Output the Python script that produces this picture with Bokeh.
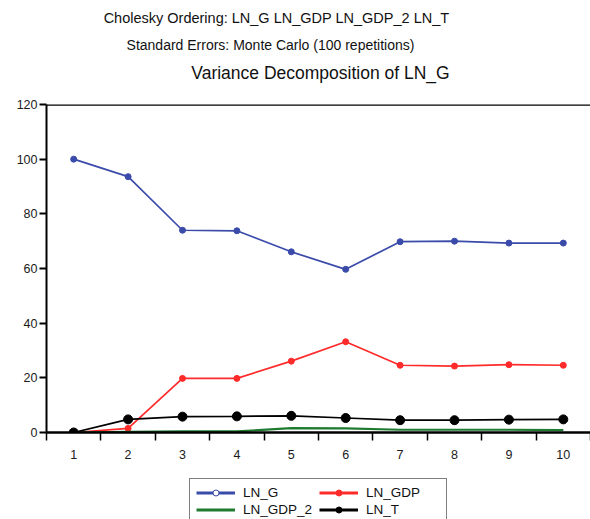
from bokeh.plotting import figure
from bokeh.models import Range1d, FixedTicker, Span, Label, Legend, LegendItem
from bokeh.layouts import column
from bokeh.embed import file_html
from bokeh.resources import INLINE

periods = [1, 2, 3, 4, 5, 6, 7, 8, 9, 10]
ln_g = [100.0, 93.6, 74.0, 73.8, 66.1, 59.7, 69.8, 70.0, 69.3, 69.3]
ln_gdp = [0.0, 1.5, 19.8, 19.8, 26.1, 33.2, 24.6, 24.3, 24.8, 24.6]
ln_gdp_2 = [0.0, 0.2, 0.4, 0.4, 1.6, 1.5, 1.0, 1.0, 1.0, 0.9]
ln_t = [0.0, 4.8, 5.8, 5.9, 6.1, 5.3, 4.5, 4.5, 4.7, 4.8]
y_ticks = [0, 20, 40, 60, 80, 100, 120]
series_names = ["LN_G", "LN_GDP", "LN_GDP_2", "LN_T"]
title_lines = ["Cholesky Ordering: LN_G LN_GDP LN_GDP_2 LN_T",
               "Standard Errors: Monte Carlo (100 repetitions)",
               "Variance Decomposition of LN_G"]

FONT = "Liberation Sans"
blue = "#3B4BAA"
red = "#FF2A2A"
green = "#1E7B30"

HEAD_H = 90
MAIN_H = 474 - HEAD_H
LEG_H = 519 - 474
FRAME_LEFT = 46  # column() aligns every frame on the chart's frame

# ---- header with the three title lines
h = figure(width=590, height=HEAD_H, output_backend="svg", toolbar_location=None,
           title=None, x_range=Range1d(0, 1), y_range=Range1d(0, 1), min_border=0)
h.axis.visible = False
h.grid.visible = False
h.outline_line_color = None
h.background_fill_color = "white"
h.border_fill_color = "white"
h.add_layout(Label(x=276 - FRAME_LEFT, y=HEAD_H - 17, x_units="screen", y_units="screen",
                   text=title_lines[0], text_font=FONT, text_font_size="14.5px",
                   text_align="center", text_baseline="middle", text_color="#111111"))
h.add_layout(Label(x=270 - FRAME_LEFT, y=HEAD_H - 44, x_units="screen", y_units="screen",
                   text=title_lines[1], text_font=FONT, text_font_size="14px",
                   text_align="center", text_baseline="middle", text_color="#111111"))
h.add_layout(Label(x=320 - FRAME_LEFT, y=HEAD_H - 72, x_units="screen", y_units="screen",
                   text=title_lines[2], text_font=FONT, text_font_size="17.5px",
                   text_align="center", text_baseline="middle", text_color="#111111"))

# ---- main chart
p = figure(width=590, height=MAIN_H, output_backend="svg", toolbar_location=None,
           title=None,
           x_range=Range1d(0.5, 10.5), y_range=Range1d(0, 120),
           min_border_left=FRAME_LEFT, min_border_right=0, min_border_top=104 - HEAD_H,
           min_border_bottom=474 - 432)
p.outline_line_color = None
p.xgrid.visible = False
p.ygrid.visible = False
p.background_fill_color = "white"
p.border_fill_color = "white"

p.yaxis.ticker = FixedTicker(ticks=y_ticks)
p.yaxis.axis_line_width = 2
p.yaxis.axis_line_color = "black"
p.yaxis.major_tick_out = 7
p.yaxis.major_tick_in = 0
p.yaxis.major_tick_line_width = 2
p.yaxis.minor_tick_line_color = None
p.yaxis.major_label_text_font = FONT
p.yaxis.major_label_text_font_size = "12.5px"
p.yaxis.major_label_text_color = "#1a1a1a"
p.yaxis.major_label_standoff = 2

p.xaxis.ticker = FixedTicker(ticks=periods, minor_ticks=[x + 0.5 for x in range(0, 11)])
p.xaxis.axis_line_width = 2.5
p.xaxis.axis_line_color = "black"
p.xaxis.major_tick_out = 0
p.xaxis.major_tick_in = 0
p.xaxis.minor_tick_out = 8
p.xaxis.minor_tick_in = 0
p.xaxis.minor_tick_line_color = "black"
p.xaxis.minor_tick_line_width = 1.5
p.xaxis.major_label_text_font = FONT
p.xaxis.major_label_text_font_size = "12.5px"
p.xaxis.major_label_text_color = "#1a1a1a"
p.xaxis.major_label_standoff = 9

p.add_layout(Span(location=120, dimension="width", line_color="black", line_width=2.5))

p.line(periods, ln_g, line_color=blue, line_width=1.7)
p.scatter(periods, ln_g, size=6, color=blue)
p.line(periods, ln_gdp, line_color=red, line_width=1.7)
p.scatter(periods, ln_gdp, size=6, color=red)
p.line(periods, ln_gdp_2, line_color=green, line_width=2.2)
p.line(periods, ln_t, line_color="black", line_width=1.7)
p.scatter(periods, ln_t, size=9, color="black")

# ---- legend strip (series drawn off-range so only the legend shows)
q = figure(width=590, height=LEG_H, output_backend="svg", toolbar_location=None,
           title=None, x_range=Range1d(0.5, 10.5), y_range=Range1d(1000, 1001),
           min_border=0, min_border_left=FRAME_LEFT)
q.axis.visible = False
q.grid.visible = False
q.outline_line_color = None
q.background_fill_color = "white"
q.border_fill_color = "white"

l_g = q.line(periods, ln_g, line_color=blue, line_width=2.8)
m_g = q.scatter(periods, ln_g, size=4, fill_color="white", line_color=blue)
l_gdp = q.line(periods, ln_gdp, line_color=red, line_width=2.8)
m_gdp = q.scatter(periods, ln_gdp, size=3, color=red)
l_gdp2 = q.line(periods, ln_gdp_2, line_color=green, line_width=2.8)
l_t = q.line(periods, ln_t, line_color="black", line_width=2.8)
m_t = q.scatter(periods, ln_t, size=5, color="black")

legend = Legend(items=[
    LegendItem(label=series_names[0], renderers=[l_g, m_g]),
    LegendItem(label=series_names[2], renderers=[l_gdp2]),
    LegendItem(label=series_names[1], renderers=[l_gdp, m_gdp]),
    LegendItem(label=series_names[3], renderers=[l_t, m_t]),
], ncols=2, location="top_center", orientation="vertical")
legend.border_line_color = "black"
legend.border_line_width = 1.5
legend.label_text_font = FONT
legend.label_text_font_size = "13.5px"
legend.label_text_color = "#111111"
legend.label_height = 15
legend.label_width = 74
legend.glyph_width = 39
legend.glyph_height = 15
legend.spacing = 2
legend.padding = 6
legend.margin = 4
legend.label_standoff = 8
legend.background_fill_alpha = 1
q.add_layout(legend, "center")

layout = column(h, p, q, spacing=0)
open("out.html", "w").write(file_html(layout, INLINE))
